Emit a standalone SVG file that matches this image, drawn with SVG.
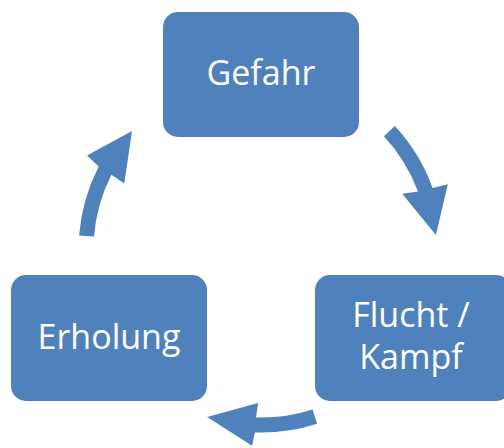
<svg xmlns="http://www.w3.org/2000/svg" width="504" height="448" viewBox="0 0 504 448">
<style>
.box{fill:#4F81BD;}
.lbl{font-family:"Open Sans","Liberation Sans",sans-serif;font-size:34px;fill:#FFFFFF;text-anchor:middle;}
.arr{fill:#4F81BD;}
</style>
<rect width="504" height="448" fill="#FFFFFF"/>
<g id="connectors">
<path class="arr" d="M394.9,126 A182.5,182.5 0 0 1 432.6,187.9 L447.8,184.2 L435.9,235 L402.2,193.8 L418,191.6 A167.5,167.5 0 0 0 383.9,136.2 Z"/>
<path class="arr" d="M317.1,423.7 A182.5,182.5 0 0 1 254.9,432.4 L252.1,445.8 L207.1,417 L258.1,403 L256,417.4 A167.5,167.5 0 0 0 312.5,409.4 Z"/>
<path class="arr" d="M79.1,235.4 A182.5,182.5 0 0 1 98.7,166.6 L87,155.5 L132,131 L124.3,183.6 L111.4,174.7 A167.5,167.5 0 0 0 94,236.6 Z"/>
</g>
<g id="gefahr">
<rect class="box" x="163" y="12" width="196" height="125" rx="15"/>
<text class="lbl" x="261" y="85">Gefahr</text>
</g>
<g id="flucht">
<rect class="box" x="315" y="275" width="196" height="126" rx="15"/>
<text class="lbl" x="411" y="327">Flucht /</text>
<text class="lbl" x="411" y="369">Kampf</text>
</g>
<g id="erholung">
<rect class="box" x="11" y="275" width="196" height="126" rx="15"/>
<text class="lbl" x="109" y="349">Erholung</text>
</g>
</svg>
